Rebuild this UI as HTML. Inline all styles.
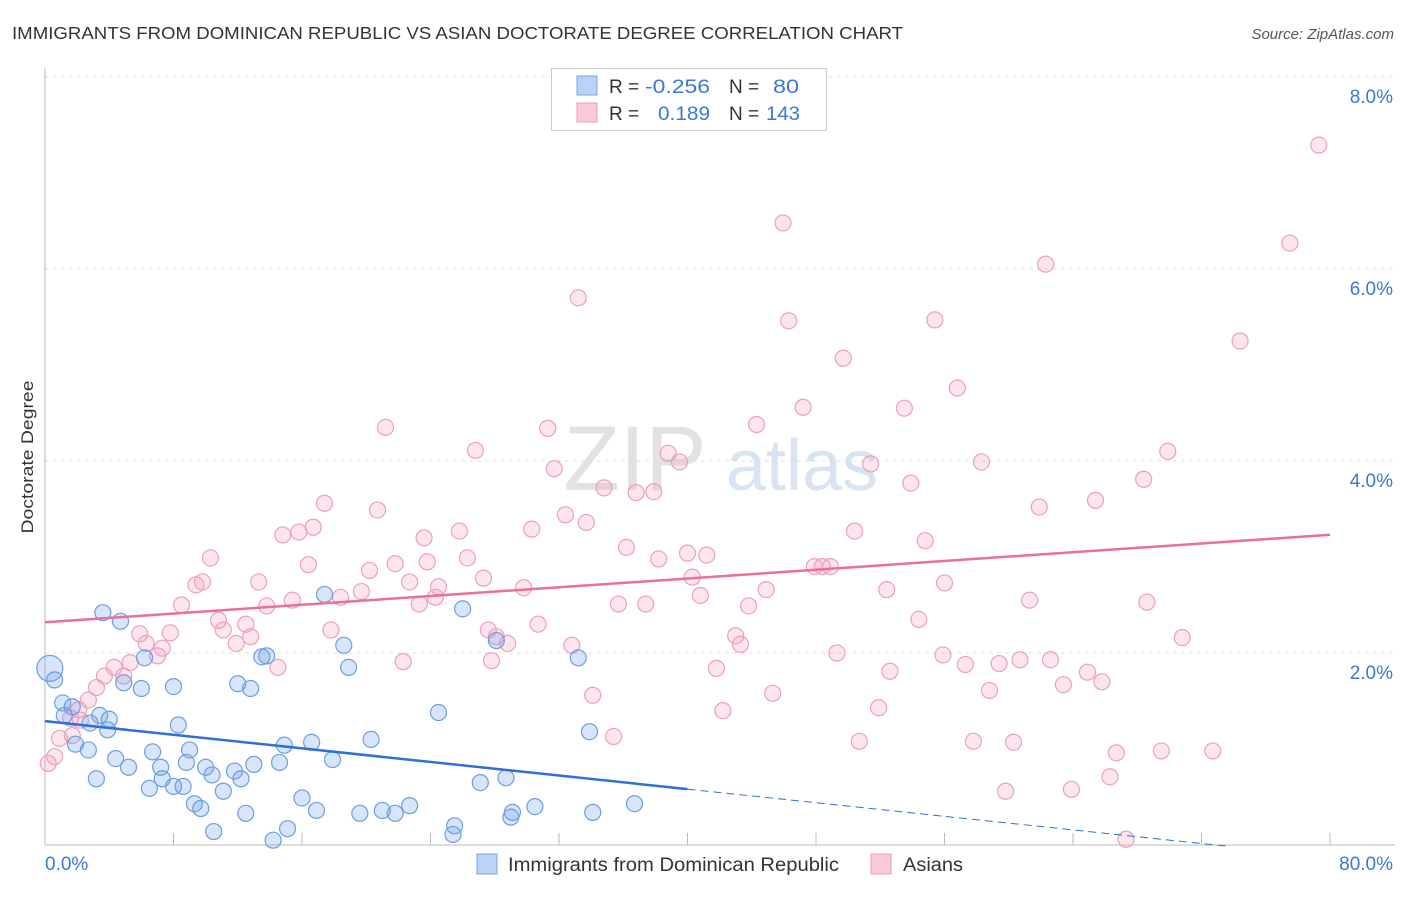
<!DOCTYPE html>
<html><head><meta charset="utf-8"><style>
body{margin:0;background:#fff;font-family:"Liberation Sans",sans-serif;}
svg text{font-family:"Liberation Sans",sans-serif;}
</style></head><body>
<svg id="chart" width="1406" height="892">
<text x="12" y="39" font-size="17.5" fill="#333" textLength="891" lengthAdjust="spacingAndGlyphs">IMMIGRANTS FROM DOMINICAN REPUBLIC VS ASIAN DOCTORATE DEGREE CORRELATION CHART</text>
<text x="1394" y="39" font-size="15" fill="#555" font-style="italic" text-anchor="end">Source: ZipAtlas.com</text>
<text x="33" y="457" font-size="17" fill="#333" text-anchor="middle" textLength="153" lengthAdjust="spacingAndGlyphs" transform="rotate(-90 33 457)">Doctorate Degree</text>
<g><text x="635" y="490" font-size="92" fill="#e2e2e2" font-family="Liberation Serif" text-anchor="middle">ZIP</text><text x="802" y="490" font-size="72" fill="#d8e3f3" text-anchor="middle">atlas</text></g>
<g id="grid"></g><g id="pts"></g><g id="lines"></g>
<g>
<rect x="551.5" y="68.5" width="275" height="62" fill="#fff" stroke="#ccc"/>
<rect x="577" y="76" width="20" height="19" fill="#bcd3f5" stroke="#7aa3e0"/>
<rect x="577" y="103" width="20" height="19" fill="#f9c9d8" stroke="#ea9ab7"/>
<text x="609" y="93" font-size="19" fill="#333">R = </text><text x="645" y="93" font-size="19" fill="#3a78d8" textLength="65" lengthAdjust="spacingAndGlyphs">-0.256</text>
<text x="729" y="93" font-size="19" fill="#333">N = </text><text x="773" y="93" font-size="19" fill="#3a78d8" textLength="26" lengthAdjust="spacingAndGlyphs">80</text>
<text x="609" y="120" font-size="19" fill="#333">R = </text><text x="658" y="120" font-size="19" fill="#3a78d8" textLength="52" lengthAdjust="spacingAndGlyphs">0.189</text>
<text x="729" y="120" font-size="19" fill="#333">N = </text><text x="766" y="120" font-size="19" fill="#3a78d8" textLength="34" lengthAdjust="spacingAndGlyphs">143</text>
</g>
<g>
<rect x="477" y="854" width="20" height="20" fill="#bcd3f5" stroke="#7aa3e0"/>
<text x="508" y="871" font-size="19" fill="#333" textLength="331" lengthAdjust="spacingAndGlyphs">Immigrants from Dominican Republic</text>
<rect x="871" y="854" width="20" height="20" fill="#f9c9d8" stroke="#ea9ab7"/>
<text x="903" y="871" font-size="19" fill="#333" textLength="60" lengthAdjust="spacingAndGlyphs">Asians</text>
</g>
</svg>
<script>
const blueX=[0.3,0.6,3.6,4.7,17.4,26.0,6.2,13.5,13.8,18.6,28.1,33.2,4.9,6.0,8.0,12.0,12.8,18.9,1.1,1.7,3.4,4.0,1.2,2.8,3.9,8.3,24.5,33.9,1.9,2.7,14.9,16.6,20.3,6.7,9.0,4.4,5.2,7.2,8.8,10.0,10.4,11.8,13.0,14.6,17.9,3.2,7.3,6.5,8.0,8.6,11.1,12.2,28.7,27.1,9.3,9.7,16.0,16.9,19.6,21.0,21.8,22.7,30.5,29.1,34.1,36.7,12.5,10.5,15.1,14.2,25.5,25.4,29.0];
const blueY=[1.84,1.72,2.42,2.33,2.61,2.46,1.95,1.96,1.97,2.08,2.13,1.95,1.69,1.63,1.65,1.68,1.63,1.85,1.48,1.44,1.35,1.31,1.35,1.27,1.20,1.25,1.38,1.18,1.05,0.99,1.04,1.07,1.10,0.97,0.99,0.90,0.81,0.81,0.86,0.81,0.73,0.77,0.84,0.86,0.89,0.69,0.69,0.59,0.61,0.61,0.56,0.69,0.70,0.65,0.43,0.38,0.49,0.36,0.33,0.36,0.33,0.41,0.40,0.34,0.34,0.43,0.33,0.14,0.17,0.05,0.20,0.11,0.29];
const pinkX=[79.3,45.95,77.5,62.3,33.2,46.3,55.4,74.4,49.7,56.8,47.2,53.5,21.2,31.3,44.3,26.8,38.8,39.5,69.9,51.4,58.3,31.7,53.9,68.4,34.8,36.8,37.9,17.4,65.4,61.9,20.7,32.4,33.7,30.3,15.8,25.8,16.7,23.6,50.4,54.8,36.2,40.0,41.2,10.3,38.2,16.4,20.2,21.8,23.8,26.3,14.8,27.3,40.3,47.9,48.4,48.9,56.0,22.7,24.5,29.8,9.8,13.3,9.4,19.7,18.4,52.4,40.8,44.9,61.3,68.6,8.5,13.8,15.4,23.3,24.3,35.7,37.4,43.8,54.4,10.8,12.5,11.1,17.8,27.6,30.7,7.8,12.8,5.9,6.3,7.3,11.9,28.1,28.8,32.8,43.0,43.3,70.8,7.0,5.3,49.3,55.9,62.6,4.3,3.7,4.9,14.5,22.3,27.8,41.8,57.3,59.4,60.7,64.9,52.6,3.2,63.4,65.8,58.8,2.7,34.1,45.3,2.1,1.6,51.9,42.2,1.7,0.9,35.4,57.8,60.3,50.7,66.7,69.5,72.7,66.3,59.8,63.9,67.3,0.6,0.2,2.2];
const pinkY=[7.29,6.48,6.27,6.05,5.70,5.46,5.47,5.25,5.07,4.76,4.56,4.55,4.35,4.34,4.38,4.11,4.08,3.99,4.10,3.97,3.99,3.92,3.77,3.81,3.72,3.67,3.68,3.56,3.59,3.52,3.49,3.44,3.36,3.29,3.26,3.27,3.31,3.20,3.27,3.17,3.10,3.04,3.02,2.99,2.98,2.92,2.86,2.93,2.95,2.99,3.23,2.78,2.79,2.90,2.90,2.90,2.73,2.74,2.69,2.68,2.74,2.74,2.71,2.64,2.58,2.66,2.60,2.66,2.55,2.53,2.50,2.49,2.55,2.51,2.58,2.51,2.51,2.49,2.35,2.34,2.30,2.24,2.24,2.24,2.30,2.21,2.17,2.20,2.10,2.05,2.10,2.17,2.10,2.08,2.18,2.09,2.16,1.97,1.90,2.00,1.98,1.93,1.85,1.76,1.76,1.85,1.91,1.92,1.84,1.88,1.89,1.93,1.80,1.81,1.64,1.67,1.70,1.61,1.51,1.56,1.58,1.41,1.32,1.43,1.40,1.14,1.11,1.13,1.08,1.07,1.08,0.96,0.98,0.98,0.71,0.56,0.58,0.06,0.92,0.85,1.30];
const blueTrend=[1.29,-0.0177]; // intercept, slope
const pinkTrend=[2.32,0.0114];
const yTicks=[2,4,6,8];
const yTickLabels=["2.0%","4.0%","6.0%","8.0%"];
const xTicks=[0,8,16,24,32,40,48,56,64,72,80];

const NS="http://www.w3.org/2000/svg";
const sx=v=>45+v*1285/80, sy=v=>845-v*96;
function mk(tag,attrs,parent){const e=document.createElementNS(NS,tag);for(const k in attrs)e.setAttribute(k,attrs[k]);document.getElementById(parent).appendChild(e);return e;}
yTicks.forEach((t,i)=>{
 const l=mk('line',{x1:45,x2:1395,y1:sy(t),y2:sy(t),stroke:'#ddd','stroke-dasharray':'4,4'},'grid');
 
 
 const tx=mk('text',{x:1393,y:sy(t)+26,'font-size':19,fill:'#3a78d8','text-anchor':'end'},'grid');tx.textContent=yTickLabels[i];
 
 
});
const ax=mk('line',{x1:45,x2:45,y1:68,y2:845,stroke:'#bbb'},'grid');


const bx=mk('line',{x1:45,x2:1395,y1:845,y2:845,stroke:'#bbb'},'grid');


xTicks.forEach(t=>{const l=mk('line',{x1:sx(t),x2:sx(t),y1:833,y2:845,stroke:'#bbb'},'grid');
 
 });
let t0=mk('text',{x:45,y:870,'font-size':19,fill:'#3a78d8'},'grid');t0.textContent='0.0%';


let t1=mk('text',{x:1393,y:870,'font-size':19,fill:'#3a78d8','text-anchor':'end'},'grid');t1.textContent='80.0%';


pinkX.forEach((x,i)=>{const c=mk('circle',{cx:sx(x),cy:sy(pinkY[i]),r:8,fill:'rgba(245,160,190,0.28)',stroke:'#eba0bb','stroke-width':1.2},'pts');
 
 });
blueX.forEach((x,i)=>{const c=mk('circle',{cx:sx(x),cy:sy(blueY[i]),r:i===0?13:8,fill:'rgba(110,160,230,0.28)',stroke:'#6e9de0','stroke-width':1.2},'pts');
 
 });
const fb=x=>blueTrend[0]+blueTrend[1]*x, fp=x=>pinkTrend[0]+pinkTrend[1]*x;
let l1=mk('line',{x1:sx(0),y1:sy(fb(0)),x2:sx(40),y2:sy(fb(40)),stroke:'#2f6fd6','stroke-width':2.5},'lines');


let l2=mk('line',{x1:sx(40),y1:sy(fb(40)),x2:sx(73.8),y2:sy(fb(73.8)),stroke:'#2f6fd6','stroke-width':1,'stroke-dasharray':'8,5'},'lines');


let l3=mk('line',{x1:sx(0),y1:sy(fp(0)),x2:sx(80),y2:sy(fp(80)),stroke:'#e8709a','stroke-width':2.5},'lines');


</script>
</body></html>
